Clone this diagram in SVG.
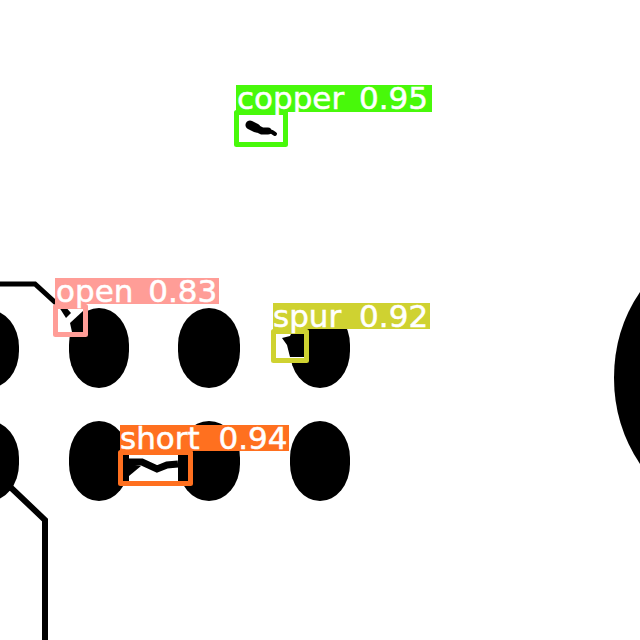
<svg xmlns="http://www.w3.org/2000/svg" width="640" height="640" viewBox="0 0 640 640">
<style>
.pad{fill:#000}
.trace{fill:none;stroke:#000;stroke-width:5;stroke-linejoin:miter}
.box{fill:none;stroke-width:5;stroke-linejoin:round}
.label{fill:#fff;stroke:#fff;stroke-width:.5;font-family:"DejaVu Sans",sans-serif;font-size:31px}
.blob{fill:none;stroke:#000;stroke-linecap:round;stroke-linejoin:round}
</style>
<rect width="640" height="640" fill="#fff"/>
<g id="board">
<rect class="pad" x="-41" y="310" width="60" height="78" rx="30" ry="37"/>
<rect class="pad" x="69" y="308" width="60" height="80" rx="30" ry="37"/>
<rect class="pad" x="178" y="308" width="62" height="80" rx="31" ry="37"/>
<rect class="pad" x="290" y="308" width="60" height="80" rx="30" ry="37"/>
<rect class="pad" x="-41" y="421" width="60" height="80" rx="30" ry="37"/>
<rect class="pad" x="69" y="421" width="60" height="80" rx="30" ry="37"/>
<rect class="pad" x="178" y="421" width="62" height="80" rx="31" ry="37"/>
<rect class="pad" x="290" y="421" width="60" height="80" rx="30" ry="37"/>
<path class="pad" d="M640 292Q614 330 614 378Q614 425 640 464Z"/>
</g>
<g id="connectors">
<path class="trace" d="M0 284H35L58 305"/>
<path class="trace" style="stroke-width:6" d="M5 482L45 520V640"/>
</g>
<g id="copper">
<path class="blob" stroke-width="9" d="M250 125L256 128"/>
<path class="blob" stroke-width="7" d="M256 128L262 131L268 131"/>
<path class="blob" stroke-width="4" d="M268 131L272 132L275 134"/>
<rect class="box" x="236.500" y="112.500" width="49" height="32" stroke="#48f90a"/>
<rect x="236" y="85" width="196" height="27" fill="#48f90a"/>
<text class="label" x="237" y="109" word-spacing="5">copper 0.95</text>
</g>
<g id="open">
<rect x="58" y="304" width="25" height="28" fill="#fff"/>
<path class="pad" d="M59 307L64 305L71 313L66 318Z"/>
<path class="pad" d="M70 323L83 311V332H72Z"/>
<rect class="box" x="55.500" y="306.500" width="30" height="28" stroke="#ff9d97"/>
<rect x="55" y="278" width="164" height="26" fill="#ff9d97"/>
<text class="label" x="56" y="302" word-spacing="5">open 0.83</text>
</g>
<g id="spur">
<rect x="276" y="330" width="28" height="28" fill="#fff"/>
<path class="pad" d="M282 338L290 336L292 332H304V357H290L287 345Z"/>
<rect class="box" x="273.500" y="331.500" width="33" height="29" stroke="#cfd231"/>
<rect x="273" y="303" width="157" height="26" fill="#cfd231"/>
<text class="label" x="273" y="327" word-spacing="8">spur 0.92</text>
</g>
<g id="short">
<rect x="123" y="451" width="65" height="30" fill="#fff"/>
<rect class="pad" x="123" y="451" width="6" height="30"/>
<rect class="pad" x="178" y="451" width="10" height="30"/>
<path class="trace" style="stroke-width:7" d="M129 462L142 462L157 469L167 465L178 464"/>
<path class="pad" d="M129 464L141 466L129 476Z"/>
<rect class="box" x="120.500" y="452.500" width="70" height="31" stroke="#ff701f"/>
<rect x="120" y="425" width="169" height="26" fill="#ff701f"/>
<text class="label" x="120" y="449" word-spacing="9">short 0.94</text>
</g>
</svg>
